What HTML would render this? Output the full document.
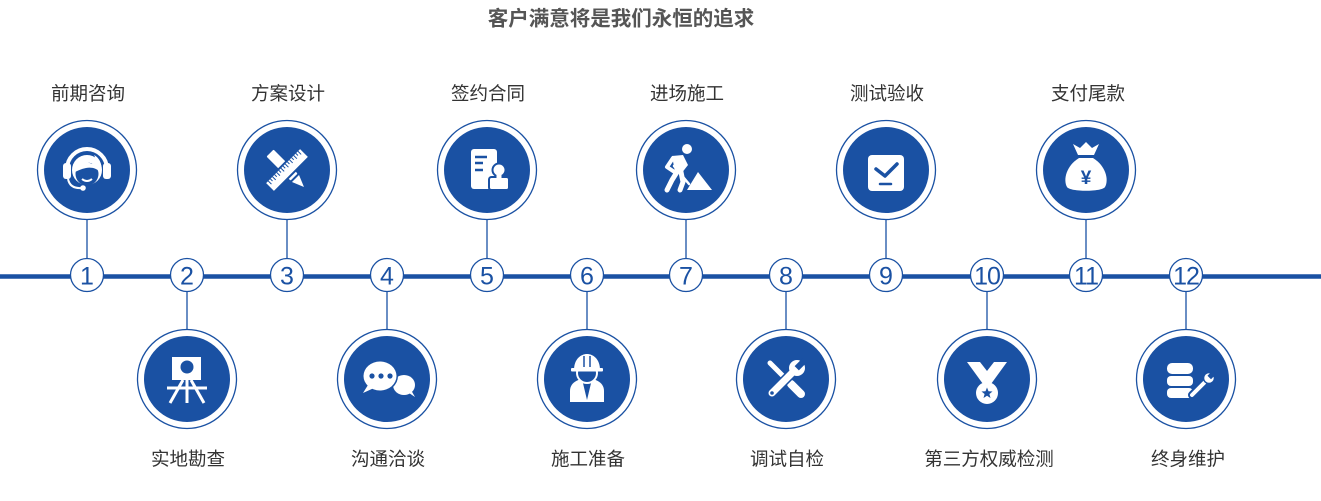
<!DOCTYPE html>
<html>
<head>
<meta charset="utf-8">
<style>
html,body{margin:0;padding:0;background:#fff;}
svg{display:block;}
.lbl{font-family:"Liberation Sans","Noto Sans CJK SC",sans-serif;font-size:18.5px;fill:#333;}
.num{font-family:"Liberation Sans",sans-serif;font-size:25px;fill:#1a51a3;}
</style>
</head>
<body>
<svg width="1321" height="501" viewBox="0 0 1321 501" xmlns="http://www.w3.org/2000/svg">
<rect width="1321" height="501" fill="#fff"/>
<text x="621" y="19" text-anchor="middle" dominant-baseline="central" style="font-family:'Liberation Sans','Noto Sans CJK SC',sans-serif;font-size:20.5px;font-weight:bold;fill:#555;">客户满意将是我们永恒的追求</text>

<!-- main line -->
<line x1="0" y1="276.5" x2="1321" y2="276.5" stroke="#1a51a3" stroke-width="4.5"/>

<!-- connectors -->
<g stroke="#1a51a3" stroke-width="1.3">
<line x1="87" y1="219" x2="87" y2="259"/>
<line x1="287" y1="219" x2="287" y2="259"/>
<line x1="487" y1="219" x2="487" y2="259"/>
<line x1="686" y1="219" x2="686" y2="259"/>
<line x1="886" y1="219" x2="886" y2="259"/>
<line x1="1086" y1="219" x2="1086" y2="259"/>
<line x1="187" y1="291" x2="187" y2="331"/>
<line x1="387" y1="291" x2="387" y2="331"/>
<line x1="587" y1="291" x2="587" y2="331"/>
<line x1="786" y1="291" x2="786" y2="331"/>
<line x1="987" y1="291" x2="987" y2="331"/>
<line x1="1186" y1="291" x2="1186" y2="331"/>
</g>

<!-- big circles -->
<g fill="#fff" stroke="#1a51a3" stroke-width="1.3">
<circle cx="87" cy="170" r="49.5"/>
<circle cx="287" cy="170" r="49.5"/>
<circle cx="487" cy="170" r="49.5"/>
<circle cx="686" cy="170" r="49.5"/>
<circle cx="886" cy="170" r="49.5"/>
<circle cx="1086" cy="170" r="49.5"/>
<circle cx="187" cy="379" r="49.5"/>
<circle cx="387" cy="379" r="49.5"/>
<circle cx="587" cy="379" r="49.5"/>
<circle cx="786" cy="379" r="49.5"/>
<circle cx="987" cy="379" r="49.5"/>
<circle cx="1186" cy="379" r="49.5"/>
</g>
<g fill="#1a51a3">
<circle cx="87" cy="170" r="43"/>
<circle cx="287" cy="170" r="43"/>
<circle cx="487" cy="170" r="43"/>
<circle cx="686" cy="170" r="43"/>
<circle cx="886" cy="170" r="43"/>
<circle cx="1086" cy="170" r="43"/>
<circle cx="187" cy="379" r="43"/>
<circle cx="387" cy="379" r="43"/>
<circle cx="587" cy="379" r="43"/>
<circle cx="786" cy="379" r="43"/>
<circle cx="987" cy="379" r="43"/>
<circle cx="1186" cy="379" r="43"/>
</g>

<!-- number circles -->
<g fill="#fff" stroke="#1a51a3" stroke-width="1.3">
<circle cx="87" cy="275" r="16.5"/>
<circle cx="187" cy="275" r="16.5"/>
<circle cx="287" cy="275" r="16.5"/>
<circle cx="387" cy="275" r="16.5"/>
<circle cx="487" cy="275" r="16.5"/>
<circle cx="587" cy="275" r="16.5"/>
<circle cx="686" cy="275" r="16.5"/>
<circle cx="786" cy="275" r="16.5"/>
<circle cx="886" cy="275" r="16.5"/>
<circle cx="987" cy="275" r="16.5"/>
<circle cx="1086" cy="275" r="16.5"/>
<circle cx="1186" cy="275" r="16.5"/>
</g>
<g class="num" text-anchor="middle">
<text x="87" y="284.5">1</text>
<text x="187" y="284.5">2</text>
<text x="287" y="284.5">3</text>
<text x="387" y="284.5">4</text>
<text x="487" y="284.5">5</text>
<text x="587" y="284.5">6</text>
<text x="686" y="284.5">7</text>
<text x="786" y="284.5">8</text>
<text x="886" y="284.5">9</text>
<text x="987" y="284.5" letter-spacing="-1">10</text>
<text x="1086" y="284.5" letter-spacing="-1">11</text>
<text x="1186" y="284.5" letter-spacing="-1">12</text>
</g>

<!-- labels -->
<g class="lbl" text-anchor="middle" dominant-baseline="central">
<text x="88" y="93.5">前期咨询</text>
<text x="288" y="93.5">方案设计</text>
<text x="488" y="93.5">签约合同</text>
<text x="687" y="93.5">进场施工</text>
<text x="887" y="93.5">测试验收</text>
<text x="1088" y="93.5">支付尾款</text>
<text x="188" y="459">实地勘查</text>
<text x="388" y="459">沟通洽谈</text>
<text x="588" y="459">施工准备</text>
<text x="787" y="459">调试自检</text>
<text x="989" y="459">第三方权威检测</text>
<text x="1188" y="459">终身维护</text>
</g>

<!-- icon 1: headset -->
<g transform="translate(87,170)" fill="#fff">
<path d="M-20,-1 A20,20 0 0 1 20,-1" fill="none" stroke="#fff" stroke-width="4"/>
<rect x="-24" y="-7" width="8" height="16" rx="3"/>
<rect x="16" y="-7" width="8" height="16" rx="3"/>
<circle cx="0" cy="0" r="15"/>
<circle cx="0" cy="4" r="11.5" fill="#1a51a3"/>
<path d="M-14,3 C-13,-8 -2,-10 5,-6 C8,-8 9,-12 7,-15 C13,-12 16,-4 14,3 C10,-2 4,-3 -1,-2 C-6,-1 -10,1 -14,3 Z"/>
<path d="M-5,9 Q0,13 5,9" stroke="#fff" stroke-width="2" fill="none"/>
<path d="M-19,9 Q-17,19 -5,18" stroke="#fff" stroke-width="2" fill="none"/>
<circle cx="-4" cy="18" r="2.8"/>
</g>

<!-- icon 3: ruler + pencil -->
<g transform="translate(287,170)">
<g transform="rotate(45)" fill="#fff">
<rect x="-24" y="-5" width="34" height="10" rx="1"/>
<polygon points="12,-5 24,0 12,5"/>
</g>
<g transform="rotate(-45)">
<rect x="-25" y="-6.5" width="50" height="13" fill="#fff" stroke="#1a51a3" stroke-width="2"/>
<g stroke="#1a51a3" stroke-width="1">
<line x1="-21" y1="-5.5" x2="-21" y2="-1"/><line x1="-18" y1="-5.5" x2="-18" y2="-2.5"/>
<line x1="-15" y1="-5.5" x2="-15" y2="-1"/><line x1="-12" y1="-5.5" x2="-12" y2="-2.5"/>
<line x1="-9" y1="-5.5" x2="-9" y2="-1"/><line x1="-6" y1="-5.5" x2="-6" y2="-2.5"/>
<line x1="-3" y1="-5.5" x2="-3" y2="-1"/><line x1="0" y1="-5.5" x2="0" y2="-2.5"/>
<line x1="3" y1="-5.5" x2="3" y2="-1"/><line x1="6" y1="-5.5" x2="6" y2="-2.5"/>
<line x1="9" y1="-5.5" x2="9" y2="-1"/><line x1="12" y1="-5.5" x2="12" y2="-2.5"/>
<line x1="15" y1="-5.5" x2="15" y2="-1"/><line x1="18" y1="-5.5" x2="18" y2="-2.5"/>
<line x1="21" y1="-5.5" x2="21" y2="-1"/>
</g>
</g>
</g>

<!-- icon 5: document + stamp -->
<g transform="translate(487,170)">
<rect x="-16" y="-21" width="26" height="40" rx="3" fill="#fff"/>
<g stroke="#1a51a3" stroke-width="2.5">
<line x1="-12" y1="-13" x2="0" y2="-13"/>
<line x1="-12" y1="-7" x2="-4" y2="-7"/>
<line x1="-12" y1="0" x2="-4" y2="0"/>
</g>
<g fill="#1a51a3" stroke="#1a51a3" stroke-width="4">
<circle cx="12" cy="0" r="5.5"/>
<rect x="9.5" y="3" width="5" height="6"/>
<rect x="3" y="8" width="18" height="11" rx="1.5"/>
</g>
<g fill="#fff">
<circle cx="12" cy="0" r="5.5"/>
<rect x="9.5" y="3" width="5" height="6"/>
<rect x="3" y="8" width="18" height="11" rx="1.5"/>
</g>
</g>

<!-- icon 7: digging worker -->
<g transform="translate(686,170)" fill="#fff" stroke-linecap="round" stroke-linejoin="round">
<circle cx="1" cy="-21" r="5"/>
<polygon points="-14,-14 -3,-15 2,-5 -5,4 -11,2"/>
<path d="M-13,-12 L-19,-3 L-10,3" stroke="#fff" stroke-width="4" fill="none"/>
<line x1="-12" y1="-4" x2="3" y2="14" stroke="#fff" stroke-width="2.5"/>
<path d="M-9,2 L-14,10 L-19,20" stroke="#fff" stroke-width="5" fill="none"/>
<path d="M-5,2 L-3,12 L-6,20" stroke="#fff" stroke-width="5" fill="none"/>
<polygon points="1,20 26,20 12,2"/>
</g>

<!-- icon 9: checkbox -->
<g transform="translate(886,170)">
<rect x="-18" y="-15" width="36" height="36" rx="4" fill="#fff"/>
<polyline points="-10,-1 -1,6 11,-6" fill="none" stroke="#1a51a3" stroke-width="3.5" stroke-linecap="round" stroke-linejoin="round"/>
<line x1="-6" y1="14" x2="5" y2="14" stroke="#1a51a3" stroke-width="2.5" stroke-linecap="round"/>
</g>

<!-- icon 11: money bag -->
<g transform="translate(1086,170)" fill="#fff">
<path d="M-13,-26 L-6,-22 L0,-28 L6,-22 L13,-26 L8,-15 L-8,-15 Z"/>
<path d="M-7,-12 L7,-12 C20,-4 23,10 19,17 C16,22 -16,22 -19,17 C-23,10 -20,-4 -7,-12 Z"/>
<text x="0" y="14" text-anchor="middle" style="font-family:'Liberation Sans',sans-serif;font-size:19px;font-weight:bold;fill:#1a51a3;">¥</text>
</g>

<!-- icon 2: easel -->
<g transform="translate(187,379)">
<rect x="-15" y="-22" width="29" height="23" fill="#fff"/>
<circle cx="0" cy="-12" r="6.5" fill="#1a51a3"/>
<g stroke="#fff" stroke-width="3">
<line x1="-4" y1="1" x2="-17" y2="24"/>
<line x1="4" y1="1" x2="17" y2="24"/>
<line x1="0" y1="1" x2="0" y2="24"/>
<line x1="-20" y1="9" x2="20" y2="9"/>
</g>
</g>

<!-- icon 4: chat bubbles -->
<g transform="translate(387,379)">
<ellipse cx="17" cy="6" rx="11" ry="10" fill="#fff"/>
<path d="M22,14 L28,18 L24,11 Z" fill="#fff"/>
<ellipse cx="-7" cy="-3" rx="18" ry="16" fill="#1a51a3"/>
<ellipse cx="-7" cy="-3" rx="16.5" ry="14.5" fill="#fff"/>
<path d="M-19,6 L-24,14 L-13,9 Z" fill="#fff"/>
<circle cx="-15" cy="-3" r="2.6" fill="#1a51a3"/>
<circle cx="-6" cy="-3" r="2.6" fill="#1a51a3"/>
<circle cx="3" cy="-3" r="2.6" fill="#1a51a3"/>
</g>

<!-- icon 6: worker with helmet -->
<g transform="translate(587,379)">
<path d="M-17,23 L-17,12 C-17,4 -10,1 -5,0 L5,0 C10,1 17,4 17,12 L17,23 Z" fill="#fff"/>
<polygon points="-5,0 5,0 0,21" fill="#1a51a3"/>
<circle cx="0" cy="-6" r="10" fill="#1a51a3" stroke="#fff" stroke-width="2"/>
<path d="M-13,-9 C-13,-20 -6,-25 0,-25 C6,-25 13,-20 13,-9 Z" fill="#fff"/>
<rect x="-16" y="-11" width="32" height="3.5" rx="1" fill="#fff"/>
<line x1="-3" y1="-23" x2="-3" y2="-12" stroke="#1a51a3" stroke-width="1.5"/>
<line x1="3" y1="-23" x2="3" y2="-12" stroke="#1a51a3" stroke-width="1.5"/>
</g>

<!-- icon 8: tools -->
<g transform="translate(786,379)" stroke-linecap="round">
<line x1="-16" y1="-16" x2="2" y2="2" stroke="#fff" stroke-width="5"/>
<line x1="5" y1="5" x2="15" y2="15" stroke="#fff" stroke-width="8"/>
<line x1="-14" y1="14" x2="8" y2="-8" stroke="#1a51a3" stroke-width="10"/>
<line x1="-14" y1="14" x2="8" y2="-8" stroke="#fff" stroke-width="7"/>
<circle cx="11" cy="-11" r="8" fill="#fff"/>
<rect x="12" y="-21" width="6" height="12" fill="#1a51a3" transform="rotate(45 15 -15)"/>
<circle cx="-14" cy="14" r="1.8" fill="#1a51a3"/>
</g>

<!-- icon 10: medal -->
<g transform="translate(987,379)">
<path d="M-20,-17 L20,-17 L4,5 L-4,5 Z" fill="#fff"/>
<path d="M-7,-17 L7,-17 L0,-8 Z" fill="#1a51a3"/>
<circle cx="0" cy="14" r="11" fill="#fff"/>
<polygon points="0,8.5 1.5,12.3 5.5,12.5 2.4,15 3.5,19 0,16.8 -3.5,19 -2.4,15 -5.5,12.5 -1.5,12.3" fill="#1a51a3"/>
</g>

<!-- icon 12: database + wrench -->
<g transform="translate(1186,379)">
<rect x="-19" y="-16" width="26" height="11" rx="5" fill="#fff"/>
<rect x="-19" y="-3" width="26" height="10" rx="4" fill="#fff"/>
<rect x="-19" y="9" width="26" height="10" rx="4" fill="#fff"/>
<g stroke-linecap="round">
<line x1="6" y1="16" x2="21" y2="1" stroke="#1a51a3" stroke-width="8"/>
<line x1="6" y1="16" x2="21" y2="1" stroke="#fff" stroke-width="4"/>
</g>
<circle cx="23" cy="-1" r="5.5" fill="#fff" stroke="#1a51a3" stroke-width="1.5"/>
<rect x="23" y="-8" width="5" height="7" fill="#1a51a3" transform="rotate(45 25 -4)"/>
</g>

</svg>
</body>
</html>
